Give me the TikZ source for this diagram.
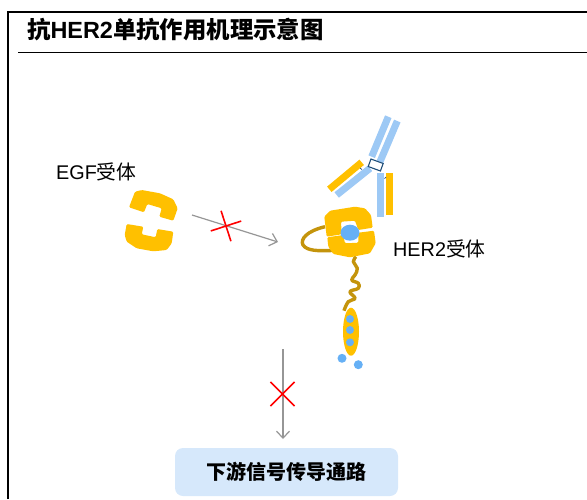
\documentclass[tikz,border=0pt]{standalone}
\usepackage{fontspec}
\setmainfont{Liberation Sans}
\newfontfamily\cjk{Noto Sans CJK SC}
\usetikzlibrary{arrows.meta,shapes.misc}
\definecolor{mygold}{RGB}{255,192,0}
\definecolor{darkgold}{RGB}{196,148,12}
\definecolor{armblue}{RGB}{157,201,245}
\definecolor{dotblue}{RGB}{102,176,245}
\definecolor{hingeblue}{RGB}{31,78,121}
\definecolor{boxblue}{RGB}{214,232,251}
\definecolor{arrowgray}{RGB}{150,150,150}
\tikzset{
  blockarrow/.style={arrowgray,line width=1.2pt,-{Straight Barb[length=7pt,width=13pt]}},
  redcross/.style={cross out,draw=red,line width=1.6pt,inner sep=0pt,minimum size=#1},
  armbar/.style={line width=7pt},
  dot/.style={fill=dotblue,circle,inner sep=0pt,minimum size=#1},
  lbl/.style={font=\fontsize{19.8}{22}\selectfont,anchor=west,inner sep=0pt}
}
\begin{document}
\begin{tikzpicture}[x=1pt,y=-1pt]
  \useasboundingbox (0,0) rectangle (587,499);
  % Frame and title
  \draw[line width=2pt] (7.5,499) -- (7.5,11.5) -- (587,11.5);
  \draw[line width=1pt] (18,52.5) -- (587,52.5);
  \node[anchor=west,inner sep=0pt,font=\fontsize{23.4}{26}\selectfont\bfseries] (title) at (27,30)
    {{\cjk 抗}HER2{\cjk 单抗作用机理示意图}};
  % EGF receptor
  \node[lbl] (egflabel) at (56,172) {EGF{\cjk 受体}};
  \fill[mygold,rounded corners=1.2pt] (129,207.3) -- (135,191.7) -- (141.7,190) -- (160,193.3)
    -- (173.3,199.3) -- (177.7,208.3) -- (173.3,220.7) -- (159.3,216.7) -- (161.7,208.3)
    -- (147.3,204) -- (144,212.3) -- cycle;
  \fill[mygold,rounded corners=1.2pt] (126.7,224) -- (143.3,226.7) -- (141.7,234.3) -- (155.7,237.3)
    -- (157.3,229) -- (173.3,231.7) -- (171.7,243.3) -- (166.7,250) -- (153.3,251.3)
    -- (136.7,248.3) -- (126.7,241.7) -- (124.7,235) -- cycle;
  % Blocked ligand arrow
  \coordinate (egfout) at (192,215);
  \coordinate (her2in) at (278,242);
  \draw[blockarrow] (egfout) -- (her2in);
  \node[redcross=21pt,rotate=63] (egfcross) at (226,226) {};
  % Antibody
  \draw[armblue,armbar] (371.7,156.7) -- (388.3,116.7);
  \draw[armblue,armbar] (380,161.7) -- (397.3,121);
  \draw[armblue,armbar] (370,168.3) -- (336.7,195);
  \draw[armblue,armbar] (380.7,173.3) -- (380.7,216.7);
  \draw[mygold,armbar] (361.7,162.3) -- (329.3,189.3);
  \draw[mygold,armbar] (389.3,173.3) -- (389.3,215);
  \draw[hingeblue,line width=0.7pt] (360,168) -- (362,169.5);
  \draw[hingeblue,line width=0.7pt] (384.5,178.5) -- (386,177);
  \node[draw=hingeblue,fill=white,line width=1.1pt,rotate=-20,minimum width=13pt,minimum height=8pt,inner sep=0pt] (hinge) at (375.7,165) {};
  % HER2 receptor
  \draw[darkgold,line width=3.4pt] (325,226.7) .. controls (307,231) and (300,239) .. (303,245)
    .. controls (307,251) and (318,251) .. (332,250.5);
  \draw[darkgold,line width=3.4pt,line join=round] plot[smooth,tension=0.7] coordinates {(356,256.7) (353.3,261.7) (357.3,268.3)
    (355,275) (351.7,280) (358.3,283.3) (358.3,288.3) (350,291.7) (355,298.3) (348.3,301.7) (344,310.7)};
  \fill[mygold,rounded corners=1.2pt] (326.7,236.7) -- (341.7,234.3) -- (341,221.7) -- (355,220.7)
    -- (358.3,230) -- (372.7,227.7) -- (371,215) -- (365,208.3) -- (355,206.7) -- (330,210.7)
    -- (324.3,216.7) -- cycle;
  \fill[mygold,rounded corners=1.2pt] (327.3,237.3) -- (343.3,235) -- (345,243.3) -- (358.3,242.7)
    -- (358.3,232.7) -- (374,230.7) -- (375.7,243.3) -- (370,253.3) -- (350,257.3)
    -- (333.3,254) -- (328.3,246.7) -- cycle;
  \fill[dotblue] (350,232.7) ellipse (9.5 and 8);
  \node[lbl] (her2label) at (393,249) {HER2{\cjk 受体}};
  % Kinase domain
  \fill[mygold] (351,331.7) ellipse (8 and 24);
  \foreach \y in {319,330,342.3} {
    \node[dot=8pt] (site\y) at (350,\y) {};
  }
  \node[dot=9pt] (dotleft) at (342,358.3) {};
  \node[dot=9pt] (dotright) at (358.3,364.7) {};
  % Blocked signal arrow
  \node[fill=boxblue,rounded corners=8pt,minimum width=223pt,minimum height=48pt,inner sep=0pt,
    font=\fontsize{20}{22}\selectfont\bfseries\cjk] (pathway) at (286.5,472) {\raisebox{-1pt}{下游信号传导通路}};
  \coordinate (signalout) at (283,349);
  \coordinate (signalin) at (283,439);
  \draw[blockarrow] (signalout) -- (signalin);
  \node[redcross=22.5pt] (signalcross) at (282.5,394) {};
\end{tikzpicture}
\end{document}
